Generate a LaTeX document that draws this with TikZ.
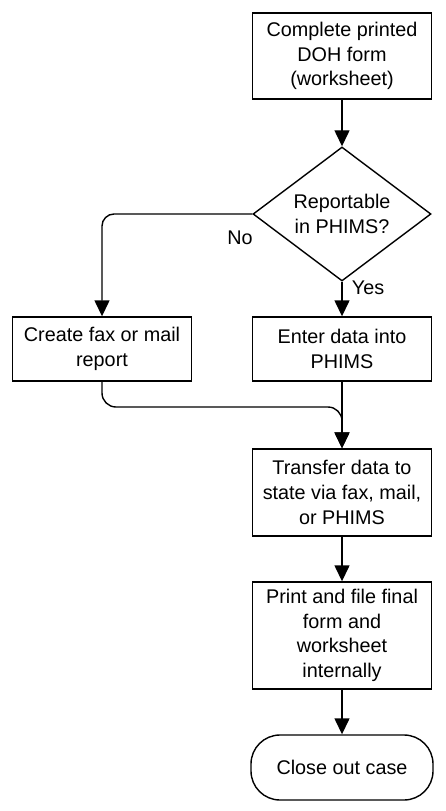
\documentclass[tikz,border=0pt]{standalone}
\usepackage{fontspec}
\setmainfont{Liberation Sans}
\usetikzlibrary{arrows.meta,shapes.geometric}

\tikzset{
  stepbox/.style={draw, line width=1.4pt, minimum width=179pt, align=center, inner sep=0pt},
  decision/.style={draw, diamond, line width=1.4pt, minimum width=178pt, minimum height=134pt, aspect=1.33, align=center, inner sep=0pt},
  terminal/.style={draw, line width=1.4pt, rounded corners=29pt, minimum width=182pt, minimum height=65pt, align=center},
  flow/.style={line width=1.4pt, -{Triangle[length=16pt,width=15pt]}},
  lbl/.style={inner sep=0pt}
}

\begin{document}
\begin{tikzpicture}[x=1pt,y=1pt,yscale=-1,font=\fontsize{19.8}{24.7}\selectfont]
\useasboundingbox (0,0) rectangle (445,811);

% Boxes
\node[stepbox, minimum height=86pt]  (form)  at (342,56)    {Complete printed\\DOH form\\(worksheet)};
\node[decision, minimum width=178pt] (dec)   at (342,214)   {Reportable\\in PHIMS?};
\node[stepbox, minimum height=64pt]  (fax)   at (102,349)   {Create fax or mail\\report};
\node[stepbox, minimum height=64pt]  (enter) at (342,349)   {Enter data into\\PHIMS};
\node[stepbox, minimum height=87pt]  (xfer)  at (342,492.5) {Transfer data to\\state via fax, mail,\\or PHIMS};
\node[stepbox, minimum height=107pt] (print) at (342,635.5) {Print and file final\\form and\\worksheet\\internally};
\node[terminal]                      (close) at (342,767.5) {Close out case};

% Labels
\node[lbl] (nolbl)  at (240,238) {No};
\node[lbl] (yeslbl) at (368,288) {Yes};

% Connectors
\coordinate (merge) at (342,407);
\draw[flow] (form) -- (dec);
\draw[flow, rounded corners=12pt] (dec.west) -| (fax.north);
\draw[flow] (dec.south) -- (enter.north);
\draw[flow, rounded corners=14pt] (fax.south) |- (merge) -- (xfer.north);
\draw[flow] (enter.south) -- (xfer.north);
\draw[flow] (xfer) -- (print);
\draw[flow] (print) -- (close);

\end{tikzpicture}
\end{document}
